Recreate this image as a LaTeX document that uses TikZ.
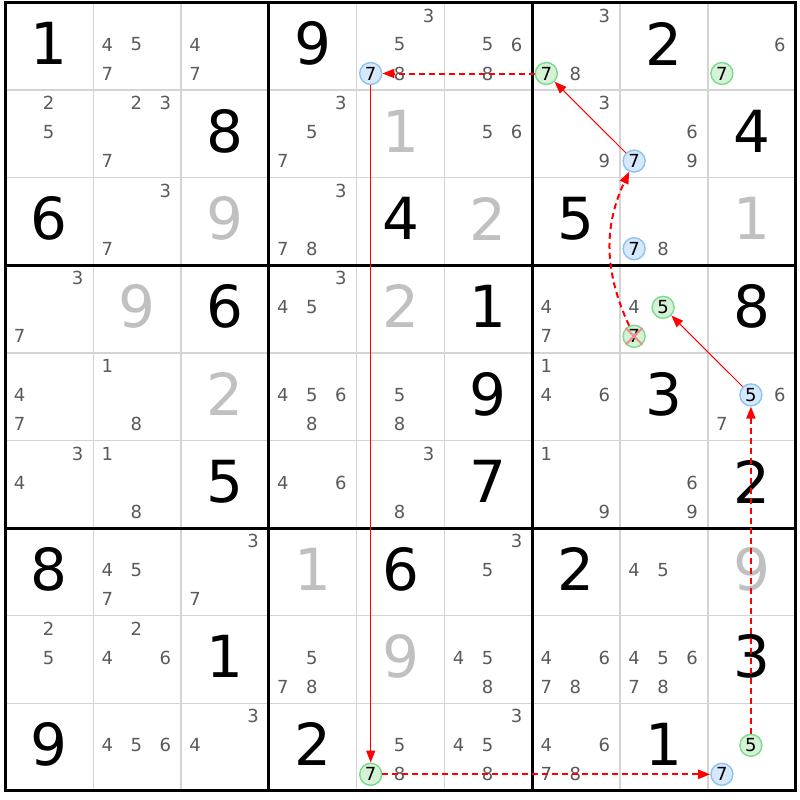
\documentclass[tikz,border=0pt]{standalone}
\usepackage{fontspec}
\setmainfont{DejaVu Sans}
\usetikzlibrary{arrows.meta}
\definecolor{candgrey}{RGB}{90,90,90}
\definecolor{solvedgrey}{RGB}{192,192,192}
\definecolor{thingrid}{RGB}{212,212,212}
\definecolor{bluefill}{RGB}{214,232,251}
\definecolor{blueedge}{RGB}{140,194,244}
\definecolor{greenfill}{RGB}{212,242,214}
\definecolor{greenedge}{RGB}{124,218,140}
\definecolor{xred}{RGB}{240,140,140}
\definecolor{linkred}{RGB}{255,0,0}
\def\gx{5.5}\def\gy{2.5}\def\cw{87.8}\def\ch{87.6}
\tikzset{
  bigdigit/.style={inner sep=0pt, font=\fontsize{58}{60}\selectfont},
  cand/.style={inner sep=0pt, text=candgrey, font=\fontsize{18}{20}\selectfont},
  bluec/.style={circle, draw=blueedge, fill=bluefill, line width=1.4pt, inner sep=0pt, minimum size=22pt, text=black, font=\fontsize{18}{20}\selectfont},
  greenc/.style={circle, draw=greenedge, fill=greenfill, line width=1.4pt, inner sep=0pt, minimum size=22pt, text=black, font=\fontsize{18}{20}\selectfont},
  linkS/.style={draw=linkred, line width=1pt, -{Triangle[length=12pt,width=9pt]}},
  linkW/.style={draw=linkred, line width=2pt, dash pattern=on 6pt off 4pt, -{Triangle[length=12pt,width=9pt]}},
  xmark/.style={draw=xred, line width=2pt},
}
\newcommand\givenD[4][black]{%
  \node[bigdigit, text=#1] (g#2#3) at ({\gx+(#3-1)*\cw+43.9},{\gy+(#2-1)*\ch+41}) {#4};}
\newcommand\candL[3]{%
  \foreach \dd in {#3}{%
    \pgfmathtruncatemacro\kr{int((\dd-1)/3)}%
    \pgfmathtruncatemacro\kc{mod(\dd-1,3)}%
    \node[cand] (n#1#2\dd) at ({\gx+(#2-1)*\cw+14+\kc*29},{\gy+(#1-1)*\ch+13+\kr*29}) {\dd};}}
\newcommand\circD[4]{%
  \pgfmathtruncatemacro\kr{int((#4-1)/3)}%
  \pgfmathtruncatemacro\kc{mod(#4-1,3)}%
  \node[#1] (c#2#3#4) at ({\gx+(#3-1)*\cw+14+\kc*29},{\gy+(#2-1)*\ch+13+\kr*29}) {#4};}
\begin{document}
\begin{tikzpicture}[x=1pt,y=-1pt]
\fill[white] (0,0) rectangle (800,800);
\useasboundingbox (0,0) rectangle (800,800);
% thin grid
\foreach \i in {1,2,4,5,7,8}{
  \draw[thingrid, line width=1.5pt] ({\gx+\i*\cw},\gy) -- ({\gx+\i*\cw},{\gy+9*\ch});
  \draw[thingrid, line width=1.5pt] (\gx,{\gy+\i*\ch}) -- ({\gx+9*\cw},{\gy+\i*\ch});
}
\foreach \i in {0,3,6,9}{
  \draw[black, line width=3pt] ({\gx+\i*\cw},{\gy-1.5}) -- ({\gx+\i*\cw},{\gy+9*\ch+1.5});
  \draw[black, line width=3pt] ({\gx-1.5},{\gy+\i*\ch}) -- ({\gx+9*\cw+1.5},{\gy+\i*\ch});
}
% row 1
\givenD{1}{1}{1} \candL{1}{2}{4,5,7} \candL{1}{3}{4,7} \givenD{1}{4}{9}
\candL{1}{5}{3,5,8} \candL{1}{6}{5,6,8} \candL{1}{7}{3,8} \givenD{1}{8}{2} \candL{1}{9}{6}
% row 2
\candL{2}{1}{2,5} \candL{2}{2}{2,3,7} \givenD{2}{3}{8} \candL{2}{4}{3,5,7}
\givenD[solvedgrey]{2}{5}{1} \candL{2}{6}{5,6} \candL{2}{7}{3,9} \candL{2}{8}{6,9} \givenD{2}{9}{4}
% row 3
\givenD{3}{1}{6} \candL{3}{2}{3,7} \givenD[solvedgrey]{3}{3}{9} \candL{3}{4}{3,7,8}
\givenD{3}{5}{4} \givenD[solvedgrey]{3}{6}{2} \givenD{3}{7}{5} \candL{3}{8}{8} \givenD[solvedgrey]{3}{9}{1}
% row 4
\candL{4}{1}{3,7} \givenD[solvedgrey]{4}{2}{9} \givenD{4}{3}{6} \candL{4}{4}{3,4,5}
\givenD[solvedgrey]{4}{5}{2} \givenD{4}{6}{1} \candL{4}{7}{4,7} \candL{4}{8}{4} \givenD{4}{9}{8}
% row 5
\candL{5}{1}{4,7} \candL{5}{2}{1,8} \givenD[solvedgrey]{5}{3}{2} \candL{5}{4}{4,5,6,8}
\candL{5}{5}{5,8} \givenD{5}{6}{9} \candL{5}{7}{1,4,6} \givenD{5}{8}{3} \candL{5}{9}{6,7}
% row 6
\candL{6}{1}{3,4} \candL{6}{2}{1,8} \givenD{6}{3}{5} \candL{6}{4}{4,6}
\candL{6}{5}{3,8} \givenD{6}{6}{7} \candL{6}{7}{1,9} \candL{6}{8}{6,9} \givenD{6}{9}{2}
% row 7
\givenD{7}{1}{8} \candL{7}{2}{4,5,7} \candL{7}{3}{3,7} \givenD[solvedgrey]{7}{4}{1}
\givenD{7}{5}{6} \candL{7}{6}{3,5} \givenD{7}{7}{2} \candL{7}{8}{4,5} \givenD[solvedgrey]{7}{9}{9}
% row 8
\candL{8}{1}{2,5} \candL{8}{2}{2,4,6} \givenD{8}{3}{1} \candL{8}{4}{5,7,8}
\givenD[solvedgrey]{8}{5}{9} \candL{8}{6}{4,5,8} \candL{8}{7}{4,6,7,8} \candL{8}{8}{4,5,6,7,8} \givenD{8}{9}{3}
% row 9
\givenD{9}{1}{9} \candL{9}{2}{4,5,6} \candL{9}{3}{3,4} \givenD{9}{4}{2}
\candL{9}{5}{5,8} \candL{9}{6}{3,4,5,8} \candL{9}{7}{4,6,7,8} \givenD{9}{8}{1}
% highlighted candidates
\circD{bluec}{1}{5}{7}
\circD{greenc}{1}{7}{7}
\circD{greenc}{1}{9}{7}
\circD{bluec}{2}{8}{7}
\circD{bluec}{3}{8}{7}
\circD{greenc}{4}{8}{5}
\circD{greenc}{4}{8}{7}
\circD{bluec}{5}{9}{5}
\circD{greenc}{9}{5}{7}
\circD{greenc}{9}{9}{5}
\circD{bluec}{9}{9}{7}
% elimination mark
\draw[xmark] (c487.north west) -- (c487.south east);
\draw[xmark] (c487.north east) -- (c487.south west);
% chain
\draw[linkS] (c157) -- (c957);
\draw[linkW] (c957) -- (c997);
\draw[linkW] (c995) -- (c595);
\draw[linkS] (c595) -- (c485);
\draw[linkW] (c487) to[bend left=25] (c287);
\draw[linkS] (c287) -- (c177);
\draw[linkW] (c177) -- (c157);
\end{tikzpicture}
\end{document}
